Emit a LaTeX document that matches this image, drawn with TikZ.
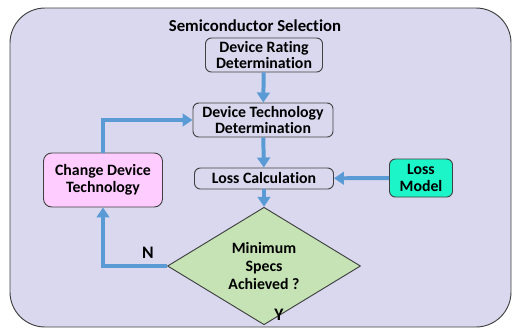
\documentclass[tikz,border=0pt]{standalone}
\usepackage{fontspec}
\setmainfont{Carlito}[Ligatures=NoCommon]
\usepackage{tikz}
\usetikzlibrary{shapes.geometric,arrows.meta,positioning}

\definecolor{panelbg}{HTML}{D9D8EE}
\definecolor{edgegray}{HTML}{404040}
\definecolor{flowblue}{HTML}{5B9BD5}
\definecolor{changepink}{HTML}{FFCCFF}
\definecolor{modelteal}{HTML}{1CF5C8}
\definecolor{specgreen}{HTML}{C5E3B5}

\tikzset{
  procbox/.style={draw=edgegray, line width=0.8pt, rounded corners=5pt, fill=panelbg,
    align=center, font=\bfseries\fontsize{13.5}{14.5}\selectfont, inner sep=1pt},
  flow/.style={draw=flowblue, line width=3.4pt,
    -{Triangle[width=0.38cm, length=0.3cm]}},
  yesno/.style={font=\bfseries\fontsize{15}{17}\selectfont}
}

\begin{document}
\begin{tikzpicture}[x=0.03cm, y=-0.03cm]
  \useasboundingbox (0,0) rectangle (512,329);

  % Panel
  \draw[edgegray, line width=0.8pt, fill=panelbg, rounded corners=1.05cm]
    (10,8) rectangle (511,327);
  \node[font=\bfseries\fontsize{14.3}{16}\selectfont] (title) at (255,26) {Semiconductor Selection};

  % Blocks
  \node[procbox, minimum width=3.51cm, minimum height=1.02cm] (rating) at (264,55)
    {Device Rating\\Determination};
  \node[procbox, minimum width=4.2cm, minimum height=1.02cm] (tech) at (263,120)
    {Device Technology\\Determination};
  \node[procbox, minimum width=4.17cm, minimum height=0.63cm] (calc) at (264,178.5)
    {Loss Calculation};
  \node[procbox, fill=modelteal, minimum width=1.89cm, minimum height=1.14cm] (model) at (421,178)
    {Loss\\Model};
  \node[procbox, fill=changepink, rounded corners=7pt, minimum width=3.57cm, minimum height=1.62cm] (change) at (103,180)
    {Change Device\\Technology};
  \node[diamond, draw=edgegray, line width=0.8pt, fill=specgreen, inner sep=0pt,
    minimum width=5.79cm, minimum height=2.43cm, align=center,
    font=\bfseries\fontsize{13.5}{15}\selectfont] (spec) at (264,266)
    {Minimum\\Specs\\Achieved ?};

  % Flow
  \draw[flow] (rating) -- (tech);
  \draw[flow] (tech) -- (calc);
  \draw[flow] (model) -- (calc);
  \draw[flow] (calc) -- (spec);
  \draw[flow] (spec.west) -| (change.south);
  \draw[flow] (change.north) |- (tech.west);

  % Decision labels
  \node[yesno] (no) at (148,253) {N};
  \node[yesno] (yes) at (279,315) {Y};
\end{tikzpicture}
\end{document}
